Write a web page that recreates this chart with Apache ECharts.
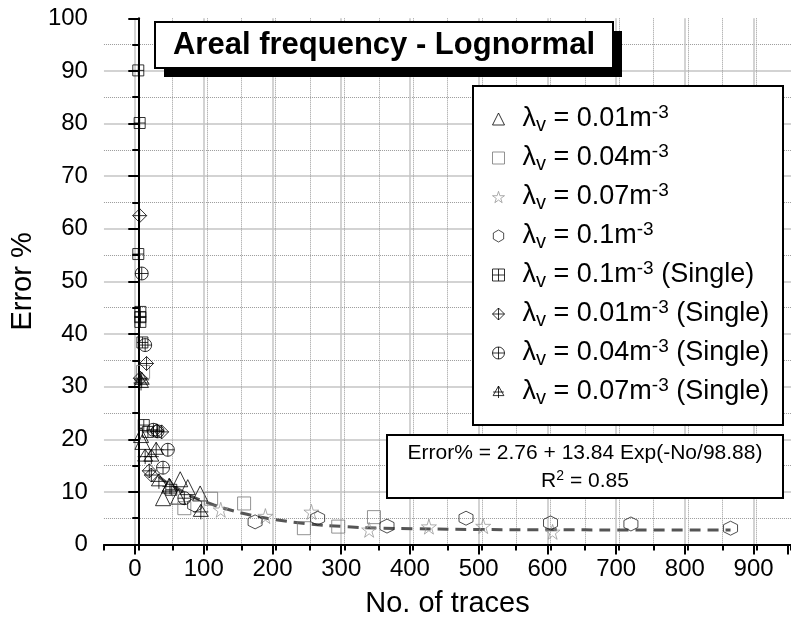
<!DOCTYPE html>
<html>
<head>
<meta charset="utf-8">
<script src="https://cdn.jsdelivr.net/npm/echarts@6/dist/echarts.min.js"></script>
<style>
  html, body { margin: 0; padding: 0; background: #fff; }
  #chart { width: 791px; height: 628px; }
</style>
</head>
<body>
<div id="chart"></div>
<script>
// data: [No. of traces, Error %]
const tri001 = [[4, 20.8], [6, 19.5], [36, 8.8], [45, 11.2], [58, 9.1], [61, 12.4], [72, 10.9], [90, 9.7]]
const sq004 = [[7, 32.8], [67, 6.9], [106, 8.7], [154, 7.8], [241, 3.1], [291, 3.4], [343, 5.2]]
const star007 = [[120, 6.6], [185, 5.4], [252, 6.2], [336, 2.8], [423, 3.4], [502, 3.5], [603, 2.4]]
const hex01 = [[82, 7.5], [170, 4.3], [261, 5.0], [362, 3.5], [477, 5.0], [600, 4.1], [717, 3.9], [862, 3.1]]
const sqSingle01 = [[0, 90.1], [2, 80.1], [0, 55.2], [3, 44.2], [3, 43.2], [3, 42.3], [6, 38.4], [8, 22.7], [14, 21.4], [48, 10.4]]
const diaSingle001 = [[2, 62.5], [12, 34.4], [3, 31.6], [27, 21.6], [34, 21.4], [16, 14.0], [19, 13.2]]
const cirSingle004 = [[5, 51.5], [10, 37.9], [22, 21.8], [28, 21.5], [43, 18.0], [36, 14.6], [67, 8.8]]
const triSingle007 = [[5, 31.3], [4, 30.7], [26, 18.0], [10, 16.7], [19, 16.7], [30, 12.0], [46, 11.0], [91, 6.2]]
// dashed fit curve
const fitPts = [[30, 12.9], [40, 11.9], [50, 11.1], [60, 10.4], [75, 9.3], [90, 8.5], [110, 7.5], [130, 6.7],
  [150, 6.0], [175, 5.3], [200, 4.7], [250, 3.9], [300, 3.4], [350, 3.1], [400, 3.0], [500, 2.85],
  [600, 2.8], [700, 2.77], [862, 2.76]]

const legendNames = ['λv = 0.01m-3', 'λv = 0.04m-3', 'λv = 0.07m-3', 'λv = 0.1m-3',
  'λv = 0.1m-3 (Single)', 'λv = 0.01m-3 (Single)', 'λv = 0.04m-3 (Single)', 'λv = 0.07m-3 (Single)']

const FONT = 'Liberation Sans, Arial, sans-serif'

const SYM = {
  star: 'path://M50,0 L61,35 L98,35 L68,57 L79,91 L50,70 L21,91 L32,57 L2,35 L39,35 Z',
  hex: 'path://M50,0 L93,25 L93,75 L50,100 L7,75 L7,25 Z',
  sqPlus: 'path://M0,0 L100,0 L100,100 L0,100 Z M50,0 L50,100 M0,50 L100,50',
  diaPlus: 'path://M50,0 L100,50 L50,100 L0,50 Z M50,0 L50,100 M0,50 L100,50',
  cirPlus: 'path://M0,50 A50,50 0 1 1 100,50 A50,50 0 1 1 0,50 Z M50,0 L50,100 M0,50 L100,50',
  triPlus: 'path://M50,0 L95,80 L5,80 Z M50,0 L50,100 M5,50 L95,50'
}

const scatter = (name, data, symbol, size, color) => ({
  type: 'scatter',
  name,
  data,
  symbol,
  symbolSize: size,
  xAxisIndex: 0,
  yAxisIndex: 0,
  itemStyle: { color: 'rgba(0,0,0,0)', borderColor: color, borderWidth: 1 },
  emphasis: { disabled: true }
})

const chart = echarts.init(document.getElementById('chart'))

chart.setOption({
  animation: false,
  backgroundColor: '#fff',
  textStyle: { fontFamily: FONT },
  grid: [
    { left: 100, top: 18.3, width: 693.3, height: 526.2 },
    { left: 135, top: 18.3, width: 658.6, height: 526.2 }
  ],
  xAxis: [
    {
      gridIndex: 0, type: 'value', min: -50, max: 950, interval: 50,
      axisLine: { lineStyle: { color: '#000', width: 2 } },
      axisTick: { length: 6, lineStyle: { color: '#000', width: 2 } },
      axisLabel: { show: false },
      splitLine: { show: true, showMinLine: false, showMaxLine: false, lineStyle: { color: '#9a9a9a', width: 1, type: 'dotted' } },
      name: 'No. of traces', nameLocation: 'middle', nameGap: 45,
      nameTextStyle: { fontSize: 29, color: '#000', fontFamily: FONT }
    },
    {
      gridIndex: 1, type: 'value', min: 0, max: 950, interval: 100,
      axisLine: { show: false },
      axisTick: { length: 10, lineStyle: { color: '#000', width: 2 } },
      axisLabel: { fontSize: 24, color: '#000', margin: 13, fontFamily: FONT, formatter: v => (v % 100 === 0 ? v : '') },
      splitLine: { show: true, showMaxLine: false, lineStyle: { color: '#c4c4c4', width: 1.5 } }
    }
  ],
  yAxis: [
    {
      gridIndex: 0, type: 'value', min: 0, max: 100, interval: 10,
      axisLine: { show: true, lineStyle: { color: '#000', width: 2 } },
      axisTick: { show: true, length: 10, lineStyle: { color: '#000', width: 2 } },
      minorTick: { show: true, splitNumber: 2, length: 6, lineStyle: { color: '#000', width: 2 } },
      axisLabel: { fontSize: 24, color: '#000', margin: 16, fontFamily: FONT },
      splitLine: { show: true, showMaxLine: false, lineStyle: { color: '#c4c4c4', width: 1.5 } },
      minorSplitLine: { show: true, lineStyle: { color: '#9a9a9a', width: 1, type: 'dotted' } },
      name: 'Error %', nameLocation: 'middle', nameGap: 52,
      nameTextStyle: { fontSize: 29, color: '#000', fontFamily: FONT }
    },
    { gridIndex: 1, type: 'value', min: 0, max: 100, show: false }
  ],
  legend: {
    data: legendNames,
    orient: 'vertical',
    left: 492,
    top: 103,
    padding: 0,
    itemGap: 7,
    itemWidth: 12,
    itemHeight: 12,
    z: 5,
    selectedMode: false,
    itemStyle: { borderWidth: 1 },
    formatter: name => {
      const m = name.match(/^λv = ([\d.]+)m-3(.*)$/)
      return '{g| }{t|λ}{sub|v}{t| = ' + m[1] + 'm}{sup|-3}{t|' + m[2] + '}'
    },
    textStyle: {
      fontFamily: FONT,
      rich: {
        g: { width: 13, fontSize: 27, lineHeight: 32 },
        t: { fontSize: 27, lineHeight: 32, color: '#000', fontFamily: FONT },
        sub: { fontSize: 20, lineHeight: 20, verticalAlign: 'bottom', color: '#000', fontFamily: FONT },
        sup: { fontSize: 19, lineHeight: 19, verticalAlign: 'top', color: '#000', fontFamily: FONT }
      }
    }
  },
  graphic: [
    { type: 'rect', z: 3, shape: { x: 164, y: 31, width: 458, height: 46 }, style: { fill: '#000' } },
    { type: 'rect', z: 3, shape: { x: 155, y: 22, width: 458, height: 46 }, style: { fill: '#fff', stroke: '#000', lineWidth: 2 } },
    { type: 'text', z: 4, x: 384, y: 45, style: { text: 'Areal frequency - Lognormal', font: 'bold 31px ' + FONT, fill: '#000', align: 'center', verticalAlign: 'middle' } },
    { type: 'rect', z: 3, shape: { x: 473, y: 86, width: 310, height: 339 }, style: { fill: '#fff', stroke: '#000', lineWidth: 2 } },
    { type: 'rect', z: 3, shape: { x: 387, y: 435, width: 396, height: 63 }, style: { fill: '#fff', stroke: '#000', lineWidth: 2 } },
    { type: 'text', z: 4, x: 585, y: 453, style: { text: 'Error% = 2.76 + 13.84 Exp(-No/98.88)', font: '21px ' + FONT, fill: '#000', align: 'center', verticalAlign: 'middle' } },
    {
      type: 'text', z: 4, x: 585, y: 481,
      style: {
        text: '{t|R}{sup|2}{t| = 0.85}', align: 'center', verticalAlign: 'middle',
        rich: {
          t: { fontSize: 21, lineHeight: 24, fill: '#000', fontFamily: FONT },
          sup: { fontSize: 14, lineHeight: 14, verticalAlign: 'top', fill: '#000', fontFamily: FONT }
        }
      }
    }
  ],
  series: [
    {
      type: 'line', name: 'fit', data: fitPts, smooth: true, symbol: 'none',
      xAxisIndex: 0, yAxisIndex: 0, z: 1,
      lineStyle: { color: '#555', width: 3, type: [11, 7] },
      emphasis: { disabled: true }
    },
    scatter(legendNames[0], tri001, 'triangle', 15, '#000'),
    scatter(legendNames[1], sq004, 'rect', 13, '#777'),
    scatter(legendNames[2], star007, SYM.star, 15, '#999'),
    scatter(legendNames[3], hex01, SYM.hex, 14, '#222'),
    scatter(legendNames[4], sqSingle01, SYM.sqPlus, 11, '#000'),
    scatter(legendNames[5], diaSingle001, SYM.diaPlus, 14, '#000'),
    scatter(legendNames[6], cirSingle004, SYM.cirPlus, 13, '#000'),
    scatter(legendNames[7], triSingle007, SYM.triPlus, 15, '#000')
  ]
})
</script>
</body>
</html>
